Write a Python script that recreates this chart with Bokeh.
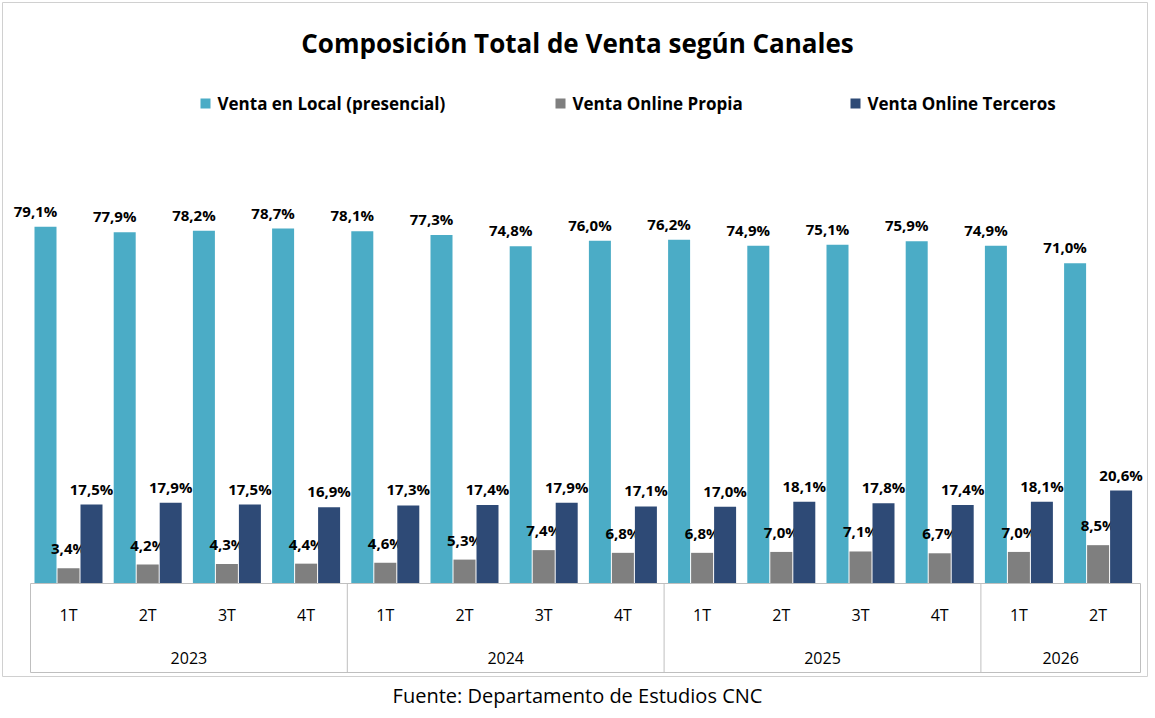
from bokeh.core.properties import value
from bokeh.embed import file_html
from bokeh.models import ColumnDataSource, Range1d
from bokeh.plotting import figure
from bokeh.resources import INLINE

quarters = ["1T", "2T", "3T", "4T", "1T", "2T", "3T", "4T", "1T", "2T", "3T", "4T", "1T", "2T"]
years = ["2023", "2024", "2025", "2026"]
year_sizes = [4, 4, 4, 2]
local = [79.1, 77.9, 78.2, 78.7, 78.1, 77.3, 74.8, 76.0, 76.2, 74.9, 75.1, 75.9, 74.9, 71.0]
propia = [3.4, 4.2, 4.3, 4.4, 4.6, 5.3, 7.4, 6.8, 6.8, 7.0, 7.1, 6.7, 7.0, 8.5]
terceros = [17.5, 17.9, 17.5, 16.9, 17.3, 17.4, 17.9, 17.1, 17.0, 18.1, 17.8, 17.4, 18.1, 20.6]
series = ["Venta en Local (presencial)", "Venta  Online Propia", "Venta  Online Terceros"]
colors = ["#4BACC6", "#7F7F7F", "#2E4A76"]

FONT = value("Open Sans")
W, H = 1150, 712
PX = 4.51          # pixels per percent
BASE = 583         # baseline pixel row


def yv(py):
    return (BASE - py) / PX


p = figure(width=W, height=H, output_backend="svg", toolbar_location=None,
           x_range=Range1d(0, W), y_range=Range1d(yv(H), yv(0)), min_border=0)
p.axis.visible = False
p.grid.visible = False
p.outline_line_color = None

# outer chart border
p.quad(left=[2], right=[W - 3], bottom=[yv(676)], top=[yv(2)], fill_color=None,
       line_color="#D0D0D0", line_width=1)

step = 79.2
centers = [68 + step * i for i in range(len(quarters))]
bw = 22
for k, (vals, col) in enumerate(zip([local, propia, terceros], colors)):
    xs = [c + (k - 1) * (bw + 1) for c in centers]
    src = ColumnDataSource(dict(x=xs, top=vals, lab=[f"{v:.1f}%".replace(".", ",") for v in vals]))
    p.vbar(x="x", top="top", bottom=0, width=bw, source=src, fill_color=col, line_color=None)
    p.text(x="x", y="top", text="lab", source=src, text_font=FONT, text_font_style="bold",
           text_font_size="15px", text_align="center", text_baseline="bottom",
           y_offset=-6 if k != 1 else -10, x_offset=-10 if k == 0 else 0)

# category axis boxes
left, right = 30, 1140
p.segment(x0=[left], x1=[right], y0=[0], y1=[0], line_color="#BFBFBF")
p.segment(x0=[left], x1=[right], y0=[yv(672)], y1=[yv(672)], line_color="#BFBFBF")
edges = [left]
i = 0
for n in year_sizes:
    i += n
    edges.append(left + step * i if i < len(quarters) else right)
p.segment(x0=edges, x1=edges, y0=[0] * len(edges), y1=[yv(672)] * len(edges), line_color="#BFBFBF")
p.text(x=centers, y=[yv(614)] * len(centers), text=quarters, text_font=FONT, text_font_size="16px",
       text_align="center", text_baseline="middle")
ymid = [(edges[j] + edges[j + 1]) / 2 for j in range(len(years))]
p.text(x=ymid, y=[yv(657)] * len(years), text=years, text_font=FONT, text_font_size="16px",
       text_align="center", text_baseline="middle")

# title, legend, source
p.text(x=[577], y=[yv(42)], text=["Composición Total de Venta según Canales"], text_font=FONT,
       text_font_style="bold", text_font_size="26px", text_align="center", text_baseline="middle")
lx = [205, 560, 855]
p.rect(x=lx, y=[yv(103)] * 3, width=10, height=10 / PX, fill_color=colors, line_color=None)
p.text(x=[v + 12 for v in lx], y=[yv(103)] * 3, text=series, text_font=FONT, text_font_style="bold",
       text_font_size="17px", text_baseline="middle")
p.text(x=[577], y=[yv(695)], text=["Fuente: Departamento de Estudios CNC"], text_font=FONT,
       text_font_size="20px", text_align="center", text_baseline="middle")

open("out.html", "w").write(file_html(p, INLINE))
